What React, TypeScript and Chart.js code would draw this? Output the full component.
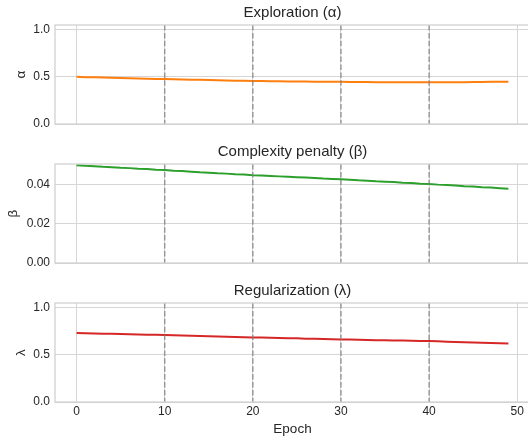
import React, { useEffect, useRef } from "react";
import { Chart, registerables } from "chart.js";

Chart.register(...registerables);

const epochs = [
  0, 1, 2, 3, 4, 5, 6, 7, 8, 9, 10, 11, 12, 13, 14, 15, 16, 17, 18, 19, 20, 21, 22, 23, 24,
  25, 26, 27, 28, 29, 30, 31, 32, 33, 34, 35, 36, 37, 38, 39, 40, 41, 42, 43, 44, 45, 46, 47, 48, 49,
];

const alphaValues = [
  0.5, 0.497, 0.495, 0.492, 0.49, 0.487, 0.485, 0.482, 0.48, 0.478,
  0.476, 0.474, 0.472, 0.47, 0.468, 0.466, 0.464, 0.462, 0.46, 0.458,
  0.456, 0.455, 0.454, 0.453, 0.452, 0.451, 0.45, 0.449, 0.448, 0.448,
  0.447, 0.446, 0.446, 0.445, 0.444, 0.444, 0.443, 0.443, 0.442, 0.442,
  0.442, 0.442, 0.443, 0.443, 0.444, 0.445, 0.446, 0.447, 0.448, 0.449,
];

const betaValues = [
  0.0498, 0.0495, 0.0493, 0.049, 0.0488, 0.0485, 0.0483, 0.048, 0.0478, 0.0475,
  0.0473, 0.047, 0.0468, 0.0465, 0.0462, 0.046, 0.0457, 0.0455, 0.0452, 0.045,
  0.0447, 0.0445, 0.0443, 0.0441, 0.0439, 0.0437, 0.0435, 0.0433, 0.043, 0.0428,
  0.0426, 0.0424, 0.0421, 0.0419, 0.0416, 0.0414, 0.0412, 0.0409, 0.0407, 0.0404,
  0.0402, 0.0399, 0.0397, 0.0394, 0.0391, 0.0389, 0.0386, 0.0384, 0.0381, 0.0378,
];

const lambdaValues = [
  0.731, 0.729, 0.727, 0.725, 0.723, 0.721, 0.719, 0.717, 0.714, 0.712,
  0.71, 0.707, 0.705, 0.702, 0.7, 0.697, 0.695, 0.692, 0.69, 0.687,
  0.685, 0.683, 0.681, 0.679, 0.677, 0.675, 0.672, 0.67, 0.668, 0.666,
  0.664, 0.662, 0.66, 0.658, 0.656, 0.655, 0.653, 0.651, 0.649, 0.648,
  0.646, 0.643, 0.64, 0.637, 0.635, 0.632, 0.629, 0.627, 0.624, 0.621,
];

const xTicks = [0, 10, 20, 30, 40, 50];
const markerEpochs = [10, 20, 30, 40];
const alphaTicks = [0, 0.5, 1.0];
const betaTicks = [0, 0.02, 0.04];
const lambdaTicks = [0, 0.5, 1.0];

const FONT = "'Liberation Sans', Arial, sans-serif";
const TEXT = "#262626";
const GRID = "#d6d6d6";

type PanelProps = {
  top: number;
  height: number;
  title: string;
  label: string;
  values: number[];
  color: string;
  yMax: number;
  yTicks: number[];
  decimals: number;
  showX: boolean;
  yTitlePad: number;
};

function Panel(p: PanelProps) {
  const ref = useRef<HTMLCanvasElement | null>(null);
  useEffect(() => {
    if (!ref.current) return;
    const framePlugin = {
      id: "frameAndMarkers",
      afterDatasetsDraw(chart: any) {
        const { ctx, chartArea, scales } = chart;
        ctx.save();
        ctx.strokeStyle = "rgba(128,128,128,0.75)";
        ctx.lineWidth = 1.5;
        ctx.setLineDash([5.5, 2.4]);
        for (const e of markerEpochs) {
          const x = scales.x.getPixelForValue(e);
          ctx.beginPath();
          ctx.moveTo(x, chartArea.top);
          ctx.lineTo(x, chartArea.bottom);
          ctx.stroke();
        }
        ctx.setLineDash([]);
        ctx.strokeStyle = "#d0d0d0";
        ctx.lineWidth = 1.25;
        ctx.strokeRect(chartArea.left, chartArea.top, chartArea.right - chartArea.left, chartArea.bottom - chartArea.top);
        ctx.restore();
      },
    };
    const chart = new Chart(ref.current, {
      type: "line",
      data: {
        datasets: [
          {
            data: epochs.map((e, i) => ({ x: e, y: p.values[i] })),
            borderColor: p.color,
            borderWidth: 2,
            pointRadius: 0,
            fill: false,
            tension: 0,
          },
        ],
      },
      options: {
        animation: false,
        responsive: false,
        maintainAspectRatio: false,
        layout: { padding: { left: 0, right: 0, top: 0, bottom: p.showX ? 0 : 10 } },
        plugins: {
          legend: { display: false },
          tooltip: { enabled: false },
          title: {
            display: true,
            text: p.title,
            fullSize: false,
            color: TEXT,
            font: { family: FONT, size: 15, weight: "normal" },
            padding: { top: 3.5, bottom: 3.5 },
          },
        },
        scales: {
          x: {
            type: "linear",
            min: -2.45,
            max: 51.45,
            afterBuildTicks: (s: any) => {
              s.ticks = xTicks.map((v) => ({ value: v }));
            },
            afterFit: (s: any) => {
              s.height = p.showX ? 38 : 0;
              s.paddingLeft = 0;
              s.paddingRight = 0;
              s.paddingTop = 0;
              s.paddingBottom = 0;
            },
            grid: { color: GRID, lineWidth: 1, drawTicks: false },
            border: { display: false },
            ticks: {
              display: p.showX,
              color: TEXT,
              padding: 2,
              maxRotation: 0,
              font: { family: FONT, size: 12 },
            },
            title: {
              display: p.showX,
              text: "Epoch",
              color: TEXT,
              font: { family: FONT, size: 13.5 },
              padding: { top: 0, bottom: 2.7 },
            },
          },
          y: {
            type: "linear",
            min: 0,
            max: p.yMax,
            afterBuildTicks: (s: any) => {
              s.ticks = p.yTicks.map((v) => ({ value: v }));
            },
            afterFit: (s: any) => {
              s.width = 55;
              s.paddingTop = 0;
              s.paddingBottom = 0;
              s.paddingLeft = 0;
              s.paddingRight = 0;
            },
            grid: { color: GRID, lineWidth: 1, drawTicks: false },
            border: { display: false },
            ticks: {
              color: TEXT,
              padding: 5,
              font: { family: FONT, size: 12 },
              callback: (v: any) => Number(v).toFixed(p.decimals),
            },
            title: {
              display: true,
              text: p.label,
              color: TEXT,
              font: { family: FONT, size: 13.5 },
              padding: { top: p.yTitlePad, bottom: 0 },
            },
          },
        },
      },
      plugins: [framePlugin],
    } as any);
    return () => chart.destroy();
  }, []);
  return (
    <canvas
      ref={ref}
      width={530}
      height={p.height}
      style={{ position: "absolute", left: 0, top: p.top, width: 530, height: p.height }}
    />
  );
}

export default function App() {
  return (
    <div
      style={{
        position: "fixed",
        left: 0,
        top: 0,
        width: 528,
        height: 440,
        overflow: "hidden",
        background: "#ffffff",
      }}
    >
      <Panel top={0} height={134} title="Exploration (α)" label="α" values={alphaValues} color="#ff7f0e" yMax={1.05} yTicks={alphaTicks} decimals={1} showX={false} yTitlePad={13.5} />
      <Panel top={139} height={134} title="Complexity penalty (β)" label="β" values={betaValues} color="#2ca02c" yMax={0.0504} yTicks={betaTicks} decimals={2} showX={false} yTitlePad={5} />
      <Panel top={278} height={162} title="Regularization (λ)" label="λ" values={lambdaValues} color="#d62728" yMax={1.05} yTicks={lambdaTicks} decimals={1} showX={true} yTitlePad={13} />
    </div>
  );
}
